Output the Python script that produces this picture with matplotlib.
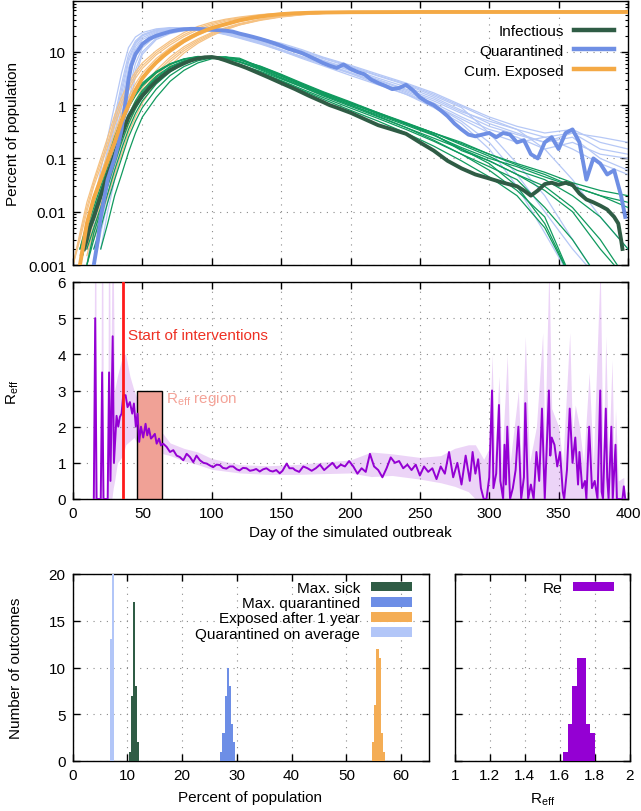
import numpy as np
import matplotlib
matplotlib.use("Agg")
import matplotlib.pyplot as plt
from matplotlib.patches import Rectangle
from matplotlib.ticker import LogLocator, NullFormatter

nan = np.nan

# ---------------- top panel data (percent of population) ----------------
infectious_mean = [(8, 0.002), (10, 0.003), (12, 0.005), (15, 0.008), (20, 0.02), (25, 0.05), (30, 0.12),
                   (35, 0.28), (40, 0.6), (45, 1.0), (50, 1.5), (55, 2.1), (60, 2.8), (65, 3.6), (70, 4.5),
                   (75, 5.3), (80, 6.1), (85, 6.9), (90, 7.5), (95, 7.9), (100, 8.0), (105, 7.6), (110, 6.9),
                   (115, 6.2), (120, 5.6), (125, 5.0), (130, 4.4), (140, 3.4), (150, 2.6), (160, 2.0),
                   (170, 1.5), (180, 1.15), (185, 1.0), (190, 0.9), (200, 0.72), (210, 0.55), (220, 0.42),
                   (230, 0.35), (240, 0.29), (250, 0.2), (260, 0.14), (270, 0.09), (280, 0.065), (290, 0.05),
                   (300, 0.042), (310, 0.035), (320, 0.03), (325, 0.025), (330, 0.02), (335, 0.025),
                   (340, 0.033), (345, 0.035), (350, 0.032), (355, 0.035), (360, 0.032), (365, 0.022),
                   (370, 0.017), (375, 0.015), (380, 0.013), (385, 0.011), (390, 0.008), (393, 0.006),
                   (395, 0.003), (396, 0.002)]

quarantined_mean = [(15, 0.001), (18, 0.003), (20, 0.008), (25, 0.04), (30, 0.1), (33, 0.2), (35, 0.35),
                    (37, 0.8), (40, 3.0), (42, 5.5), (45, 9), (50, 14), (55, 17.5), (60, 20), (65, 22),
                    (70, 24), (75, 25.5), (80, 26.5), (85, 27), (90, 27), (95, 26.5), (100, 26), (105, 25.5),
                    (110, 25), (115, 24), (120, 22), (125, 20.5), (130, 19), (135, 17.5), (140, 16),
                    (145, 14.5), (150, 13), (155, 11.5), (160, 10.5), (165, 9.5), (170, 8.3), (175, 7.2),
                    (180, 6.2), (185, 5.5), (190, 5.0), (195, 5.8), (200, 4.8), (205, 4.2), (210, 3.8),
                    (215, 3.0), (220, 2.6), (225, 2.3), (230, 2.0), (235, 2.1), (240, 2.4), (245, 1.9),
                    (250, 1.4), (255, 1.15), (260, 1.0), (265, 0.8), (270, 0.62), (275, 0.45), (280, 0.35),
                    (285, 0.28), (290, 0.26), (295, 0.28), (300, 0.3), (305, 0.25), (310, 0.3), (315, 0.28),
                    (320, 0.2), (325, 0.22), (330, 0.12), (335, 0.1), (340, 0.2), (345, 0.25), (350, 0.15),
                    (355, 0.3), (360, 0.35), (365, 0.2), (370, 0.04), (375, 0.1), (380, 0.08), (385, 0.05),
                    (390, 0.06), (395, 0.02), (398, 0.008)]

exposed_mean = [(5, 0.001), (7, 0.002), (10, 0.006), (15, 0.018), (20, 0.04), (25, 0.09), (30, 0.2),
                (35, 0.5), (40, 1.0), (45, 1.9), (50, 3.2), (55, 4.6), (60, 6.3), (65, 8.3), (70, 10.5),
                (75, 13), (80, 16), (85, 19), (90, 22), (95, 25), (100, 28), (110, 33), (120, 39),
                (130, 44), (140, 48), (150, 51), (160, 53), (175, 54.5), (200, 55.5), (250, 56),
                (300, 56), (350, 56), (400, 56)]

# individual runs (thin lines)
run_days = [5, 10, 15, 20, 25, 30, 35, 40, 45, 50, 60, 70, 80, 90, 100, 110, 120, 135, 150, 165, 180,
            200, 220, 240, 260, 280, 300, 320, 340, 360, 380, 400]
infectious_runs = [
    [0.002, 0.006, 0.015, 0.04, 0.1, 0.25, 0.55, 1.1, 1.8, 2.6, 4.3, 6.0, 7.4, 8.2, 8.0, 7.0, 5.8, 4.3, 3.1,
     2.2, 1.55, 1.0, 0.65, 0.42, 0.27, 0.16, 0.1, 0.07, 0.045, 0.03, 0.02, 0.012],
    [0.001, 0.003, 0.008, 0.02, 0.05, 0.13, 0.3, 0.65, 1.2, 1.9, 3.5, 5.3, 6.8, 7.8, 8.1, 7.5, 6.4, 4.8, 3.3,
     2.3, 1.6, 1.0, 0.62, 0.38, 0.22, 0.12, 0.07, 0.04, 0.012, 0.003, 0.0005, nan],
    [nan, 0.001, 0.004, 0.01, 0.03, 0.08, 0.2, 0.45, 0.85, 1.4, 2.8, 4.5, 6.2, 7.5, 8.2, 7.9, 7.0, 5.4, 3.8,
     2.6, 1.8, 1.15, 0.72, 0.45, 0.28, 0.15, 0.08, 0.03, 0.006, 0.0005, nan, nan],
    [nan, nan, 0.002, 0.005, 0.015, 0.04, 0.1, 0.25, 0.5, 0.9, 2.0, 3.6, 5.3, 6.8, 7.7, 7.9, 7.3, 5.0, 3.5,
     2.4, 1.65, 1.05, 0.7, 0.46, 0.3, 0.18, 0.11, 0.06, 0.04, 0.02, 0.008, 0.002],
    [nan, nan, nan, 0.002, 0.006, 0.02, 0.05, 0.13, 0.3, 0.6, 1.4, 2.8, 4.5, 6.2, 7.4, 8.0, 7.6, 5.2, 3.6,
     2.5, 1.7, 1.1, 0.7, 0.45, 0.3, 0.2, 0.12, 0.075, 0.05, 0.03, 0.02, 0.015],
    [0.001, 0.004, 0.01, 0.025, 0.07, 0.18, 0.42, 0.9, 1.5, 2.3, 4.0, 5.8, 7.2, 8.0, 7.8, 6.8, 5.6, 4.0, 2.8,
     1.9, 1.3, 0.8, 0.5, 0.3, 0.17, 0.09, 0.045, 0.02, 0.005, 0.0005, nan, nan],
    [nan, 0.002, 0.005, 0.012, 0.035, 0.1, 0.24, 0.55, 1.0, 1.6, 3.1, 4.8, 6.4, 7.6, 8.0, 7.6, 6.6, 5.0, 3.5,
     2.4, 1.7, 1.1, 0.68, 0.44, 0.28, 0.14, 0.09, 0.05, 0.03, 0.012, 0.003, 0.0005],
    [0.001, 0.003, 0.007, 0.018, 0.045, 0.12, 0.28, 0.6, 1.1, 1.75, 3.3, 5.1, 6.7, 7.8, 8.1, 7.6, 6.5, 4.6,
     3.2, 2.2, 1.5, 0.95, 0.6, 0.38, 0.24, 0.15, 0.09, 0.05, 0.025, 0.01, 0.002, 0.0005],
    [nan, 0.001, 0.003, 0.008, 0.022, 0.06, 0.15, 0.35, 0.7, 1.2, 2.5, 4.2, 6.0, 7.3, 8.1, 8.0, 7.2, 5.3, 3.7,
     2.5, 1.75, 1.1, 0.72, 0.47, 0.3, 0.19, 0.12, 0.08, 0.055, 0.035, 0.025, 0.02],
    [0.002, 0.005, 0.012, 0.03, 0.08, 0.2, 0.48, 1.0, 1.65, 2.45, 4.1, 5.9, 7.3, 8.1, 7.9, 6.9, 5.7, 4.1, 2.9,
     2.0, 1.4, 0.88, 0.56, 0.35, 0.21, 0.12, 0.06, 0.025, 0.008, 0.0005, nan, nan],
]
quarantined_runs = [
    [nan, 0.002, 0.01, 0.04, 0.15, 0.6, 2.5, 9, 16, 21, 26, 28, 28, 27, 25, 22, 19, 15, 11, 8.0, 6.0, 4.0,
     2.7, 1.8, 1.1, 0.6, 0.35, 0.25, 0.15, 0.2, 0.12, 0.1],
    [nan, 0.001, 0.004, 0.015, 0.05, 0.2, 0.9, 4, 11, 17, 23, 26, 27.5, 27, 25.5, 23, 20, 16, 12.5, 9.5, 7.0,
     4.8, 3.2, 2.2, 1.4, 0.8, 0.45, 0.3, 0.2, 0.3, 0.15, 0.12],
    [nan, nan, 0.002, 0.006, 0.02, 0.08, 0.35, 1.8, 6, 12, 20, 24, 26, 26.5, 25, 23, 20.5, 17, 13.5, 10, 7.5,
     5.2, 3.5, 2.4, 1.5, 0.9, 0.3, 0.08, 0.02, 0.003, 0.0005, nan],
    [nan, 0.003, 0.015, 0.06, 0.25, 1.0, 4, 12, 19, 23, 27, 28.5, 28, 26.5, 24.5, 21.5, 18.5, 14.5, 10.5, 7.5,
     5.5, 3.6, 2.4, 1.6, 1.0, 0.55, 0.3, 0.2, 0.25, 0.15, 0.08, 0.05],
    [nan, nan, nan, 0.002, 0.01, 0.04, 0.15, 0.8, 3.5, 9, 17, 22, 25, 26, 25.5, 24, 21.5, 18, 14.5, 11, 8.0,
     5.6, 3.8, 2.6, 1.7, 1.0, 0.6, 0.4, 0.3, 0.35, 0.2, 0.15],
    [nan, 0.001, 0.006, 0.025, 0.1, 0.4, 1.6, 6.5, 14, 20, 25, 27, 27, 26, 24, 21, 18, 14, 10.5, 7.8, 5.8,
     3.9, 2.5, 1.6, 0.9, 0.45, 0.15, 0.03, 0.004, 0.0005, nan, nan],
    [nan, nan, 0.003, 0.01, 0.035, 0.15, 0.6, 3, 9, 15, 22, 25.5, 27, 27, 25.5, 23.5, 20.5, 16.5, 12.5, 9.2,
     6.8, 4.6, 3.0, 2.0, 1.3, 0.75, 0.5, 0.35, 0.15, 0.04, 0.008, 0.002],
    [nan, 0.001, 0.005, 0.02, 0.07, 0.3, 1.2, 5, 12.5, 18.5, 24, 26.5, 27.5, 26.5, 25, 22, 19, 15.5, 12, 9,
     6.6, 4.4, 2.9, 1.9, 1.2, 0.7, 0.4, 0.28, 0.2, 0.25, 0.1, 0.06],
    [nan, nan, 0.001, 0.004, 0.015, 0.06, 0.25, 1.2, 4.5, 10, 18, 23, 26, 27, 26, 24, 21, 17.5, 14, 10.5, 7.8,
     5.4, 3.6, 2.5, 1.6, 0.95, 0.55, 0.35, 0.25, 0.3, 0.25, 0.2],
    [nan, 0.002, 0.008, 0.03, 0.12, 0.5, 2.0, 7.5, 15, 20.5, 25.5, 27.5, 27.5, 26.5, 24.5, 21.5, 18.5, 14.5,
     11, 8.2, 6.1, 4.1, 2.7, 1.7, 1.0, 0.5, 0.2, 0.05, 0.01, 0.002, 0.0005, nan],
]
exposed_days = [0, 5, 10, 15, 20, 25, 30, 35, 40, 45, 50, 60, 70, 80, 90, 100, 110, 120, 135, 150, 165, 180,
                200, 230, 260, 300, 400]
exposed_runs = [
    [0.001, 0.004, 0.015, 0.04, 0.1, 0.25, 0.65, 1.4, 2.6, 4.2, 6.2, 10.5, 16, 23, 30, 36, 41, 45, 50, 53,
     54.5, 55.3, 55.8, 56, 56, 56, 56],
    [0.001, 0.003, 0.01, 0.03, 0.07, 0.17, 0.42, 0.95, 1.9, 3.2, 4.9, 8.8, 13.5, 19.5, 26, 32, 37.5, 42, 47.5,
     51.5, 53.5, 54.7, 55.5, 55.9, 56, 56, 56],
    [nan, 0.002, 0.007, 0.02, 0.05, 0.12, 0.3, 0.7, 1.4, 2.5, 4.0, 7.5, 12, 17.5, 23.5, 29.5, 35, 40, 46, 50.5,
     53, 54.3, 55.3, 55.8, 56, 56, 56],
    [nan, 0.001, 0.004, 0.012, 0.03, 0.08, 0.2, 0.48, 1.0, 1.8, 3.0, 6.0, 10, 15, 20.5, 26.5, 32, 37, 43.5,
     48.5, 52, 53.8, 55, 55.7, 56, 56, 56],
    [nan, nan, 0.002, 0.007, 0.018, 0.05, 0.12, 0.3, 0.65, 1.2, 2.1, 4.5, 8, 12.5, 17.5, 23, 28.5, 34, 41, 47,
     50.5, 53, 54.6, 55.5, 55.9, 56, 56],
    [nan, nan, 0.001, 0.004, 0.011, 0.03, 0.075, 0.19, 0.42, 0.85, 1.5, 3.5, 6.5, 10.5, 15.5, 21, 26.5, 32, 39,
     45, 49.5, 52.5, 54.3, 55.4, 55.8, 56, 56],
    [nan, nan, nan, 0.003, 0.008, 0.02, 0.05, 0.12, 0.3, 0.6, 1.1, 2.8, 5.5, 9.5, 14.5, 20, 26, 32, 40, 46, 50,
     52.5, 54.5, 55.3, 55.7, 56, 56],
    [0.001, 0.0035, 0.012, 0.035, 0.085, 0.2, 0.52, 1.15, 2.2, 3.7, 5.5, 9.6, 14.8, 21, 28, 34, 39.5, 43.5, 49,
     52.3, 54, 55, 55.7, 56, 56, 56, 56],
    [nan, 0.0015, 0.005, 0.016, 0.04, 0.1, 0.25, 0.58, 1.2, 2.1, 3.5, 6.7, 11, 16.2, 22, 28, 33.5, 38.5, 44.8,
     49.5, 52.5, 54, 55.2, 55.8, 56, 56, 56],
    [nan, nan, 0.0015, 0.005, 0.014, 0.04, 0.1, 0.24, 0.52, 1.0, 1.8, 4.0, 7.2, 11.5, 16.5, 22, 27.5, 33, 40,
     46, 50, 52.8, 54.5, 55.5, 55.9, 56, 56],
]

# ---------------- middle panel: effective reproduction number ----------------
reff_points = [(15, 0), (16, 5.0), (17, 0), (20, 0), (21, 3.5), (22, 0), (25, 0), (26, 3.5), (27, 0.5),
               (28.6, 4.5), (29.5, 1.0), (31.4, 2.3), (32.6, 2.0), (33.8, 2.27), (35, 2.36), (36.2, 2.87),
               (37.9, 2.87), (39.3, 2.54), (41, 2.68), (42.7, 2.36), (43.9, 2.64), (45.3, 2.0), (46.5, 2.36),
               (47.7, 1.58), (49, 2.0), (50.6, 1.7), (52.3, 2.08), (53.5, 1.76), (54.7, 1.95), (56.2, 1.67),
               (57.4, 1.72), (59, 1.8), (60.3, 1.53), (62, 1.67), (63.4, 1.48), (65, 1.53), (67.5, 1.44),
               (69.9, 1.3), (72.3, 1.35), (74.7, 1.2), (77, 1.16), (79.5, 1.07), (81.9, 1.25), (84.3, 1.16),
               (86.7, 1.02), (89, 1.2), (91.5, 1.07), (94, 1.0), (96.3, 0.98), (99, 0.92), (101, 0.88),
               (103.5, 0.95), (105.8, 0.94), (108, 0.86), (110.6, 0.84), (113, 0.9), (115.4, 0.9), (118, 0.82),
               (120, 0.79), (122.5, 0.86), (125, 0.85), (127.5, 0.78), (130, 0.8), (132, 0.83), (134.6, 0.76),
               (137, 0.82), (139.4, 0.85), (142, 0.78), (144, 0.76), (146.5, 0.8), (149, 0.71), (151, 0.78),
               (154, 0.98), (156, 0.85), (158.6, 0.85), (160, 0.8), (163, 0.75), (166, 0.9), (169, 0.85),
               (172, 0.78), (175, 0.85), (178, 0.95), (181, 0.8), (184, 0.9), (187, 1.0), (190, 0.85),
               (193, 0.95), (196, 0.9), (199, 1.05), (202, 0.9), (205, 0.7), (208, 0.85), (211, 0.75),
               (214, 1.25), (217, 0.9), (220, 0.8), (223, 0.6), (226, 0.85), (229, 1.15), (232, 1.0),
               (235, 1.05), (238, 0.85), (241, 0.95), (244, 0.8), (247, 0.95), (250, 0.65), (253, 0.9),
               (256, 0.75), (259, 0.85), (262, 0.55), (265, 0.9), (268, 0.7), (271, 1.3), (274, 0.6),
               (277, 1.0), (280, 0.4), (283, 1.2), (286, 0.5), (288, 1.3), (290, 0.7), (292, 1.1), (294, 0.3),
               (296, 0.0), (298, 0.0), (300, 0.6), (302, 3.0), (303, 0.3), (305, 0.7), (307, 2.6), (308, 0.5),
               (310, 0.0), (311, 1.5), (312, 0.4), (313, 2.0), (315, 0.0), (317, 0.3), (319, 0.8), (321, 2.0),
               (323, 0.0), (325, 0.6), (326, 2.65), (328, 0.0), (330, 0.4), (332, 0.0), (334, 1.3), (336, 0.5),
               (338, 2.5), (340, 0.0), (341, 1.0), (343, 3.0), (344, 1.2), (345, 1.7), (347, 1.5), (349, 0.9),
               (351, 1.3), (353, 0.2), (354, 0.0), (356, 0.8), (358, 2.5), (360, 1.0), (362, 1.7), (364, 0.4),
               (365, 1.3), (367, 0.3), (369, 0.5), (370, 0.0), (372, 2.0), (374, 0.3), (376, 0.5), (378, 0.0),
               (380, 3.0), (381, 0.2), (382, 0.0), (384, 2.5), (385, 0.6), (386, 0.0), (388, 2.0), (389, 0.0),
               (391, 1.5), (392, 0.0), (396, 0.0), (397, 0.35), (398, 0.0)]

# (day, lower, upper) of the shaded uncertainty band
reff_band = [(15, 0, 0), (15.5, 0, 6.5), (16.5, 0, 6.5), (17, 0, 0), (20, 0, 0), (20.5, 0, 6.5),
             (21.5, 0, 6.5), (22, 0, 0), (25, 0, 0), (25.5, 0, 6.5), (26.5, 0, 6.5), (27, 0, 1.5),
             (28, 0, 6.5), (29, 0.3, 6.5), (30, 0.5, 3.0), (32, 1.0, 3.4), (36, 1.2, 4.0),
             (38, 1.5, 4.0), (41, 1.6, 3.4), (44, 1.7, 3.0), (47, 1.5, 2.7), (50, 1.3, 2.4), (55, 1.35, 2.2),
             (60, 1.35, 2.0), (65, 1.25, 1.8), (70, 1.2, 1.55), (80, 1.05, 1.4), (90, 0.95, 1.3),
             (100, 0.82, 1.12), (120, 0.72, 0.95), (140, 0.68, 0.92), (160, 0.68, 0.95), (180, 0.7, 1.02),
             (200, 0.72, 1.08), (215, 0.62, 1.3), (230, 0.65, 1.25), (250, 0.55, 1.15), (265, 0.45, 1.2),
             (275, 0.35, 1.4), (285, 0.2, 1.5), (290, 0, 1.5), (296, 0, 1.1), (300, 0, 1.4), (302, 0, 4.0),
             (304, 0, 1.2), (307, 0, 3.4), (309, 0, 1.0), (313, 0, 4.0), (315, 0, 1.0), (321, 0, 3.0),
             (323, 0, 1.0), (326, 0, 4.5), (329, 0, 1.0), (334, 0, 2.0), (338.5, 0, 4.6), (340, 0, 1.5),
             (343, 0, 6.5), (345, 0, 2.5), (347, 0, 2.3), (350, 0, 2.0), (353, 0, 1.0), (358, 0, 4.6),
             (360, 0, 1.8), (362, 0, 2.6), (365, 0, 2.0), (368, 0, 1.0), (372, 0, 3.5), (375, 0, 1.0),
             (380, 0, 6.5), (382, 0, 1.0), (384, 0, 4.5), (386, 0, 1.0), (388.5, 0, 3.85), (390, 0, 1.0),
             (391, 0, 2.5), (393, 0, 0.5), (397, 0, 0.6)]

intervention_day = 36
reff_region = (46, 64, 3.0)

# ---------------- bottom panels: histograms of outcomes ----------------
bin_width_pct = 0.37
max_sick_bins = [10.54, 10.91, 11.28, 11.65, 12.02]
max_sick_counts = [1, 7, 17, 8, 2]
max_quar_bins = [27.2, 27.57, 27.94, 28.31, 28.68, 29.05, 29.42]
max_quar_counts = [1, 3, 7, 10, 8, 4, 2]
exposed_year_bins = [54.95, 55.32, 55.69, 56.06, 56.43, 56.8]
exposed_year_counts = [2, 6, 12, 11, 3, 1]
quar_avg_bins = [6.95, 7.32]
quar_avg_counts = [13, 22]
bin_width_re = 0.026
re_bins = [1.633, 1.659, 1.685, 1.711, 1.737, 1.763, 1.789]
re_counts = [1, 4, 8, 11, 11, 4, 3]

# ---------------- styling ----------------
plt.rcParams['font.family'] = ['Liberation Sans', 'DejaVu Sans']
plt.rcParams['font.size'] = 11
plt.rcParams['mathtext.fontset'] = 'custom'
plt.rcParams['mathtext.rm'] = 'Liberation Sans'
plt.rcParams['mathtext.it'] = 'Liberation Sans:italic'
for a in ('x', 'y'):
    plt.rcParams[f'{a}tick.direction'] = 'in'
    plt.rcParams[f'{a}tick.major.size'] = 5
    plt.rcParams[f'{a}tick.minor.size'] = 2.5
    plt.rcParams[f'{a}tick.major.width'] = 1.0
    plt.rcParams[f'{a}tick.minor.width'] = 0.8
    plt.rcParams[f'{a}tick.major.pad'] = 5
plt.rcParams['xtick.top'] = True
plt.rcParams['ytick.right'] = True
plt.rcParams['axes.linewidth'] = 1.0

C_INF, C_INF_T = '#2f5c45', '#109a5e'
C_QUA, C_QUA_T = '#6f8fe4', '#b6c8f6'
C_EXP, C_EXP_T = '#f4a945', '#f6c283'
C_RE = '#9400d3'
GRID = dict(color='#8a8a8a', linestyle=(0, (1, 5)), linewidth=0.8)

W, H = 641, 812
fig = plt.figure(figsize=(W / 100, H / 100), dpi=100)
ax1 = fig.add_axes([73 / W, 1 - 266 / H, 555 / W, 264 / H])
ax2 = fig.add_axes([73 / W, 1 - 500 / H, 555 / W, 217 / H])
ax3 = fig.add_axes([72.5 / W, 1 - 762 / H, 356 / W, 187 / H])
ax4 = fig.add_axes([455 / W, 1 - 762 / H, 174.5 / W, 187 / H])


def unzip(points):
    return [p[0] for p in points], [p[1] for p in points]


# ---- top panel ----
for run in quarantined_runs:
    ax1.plot(run_days, run, color=C_QUA_T, lw=0.9, zorder=2)
for run in exposed_runs:
    ax1.plot(exposed_days, run, color=C_EXP_T, lw=0.9, zorder=2)
for run in infectious_runs:
    ax1.plot(run_days, run, color=C_INF_T, lw=0.9, zorder=3)
x, y = unzip(infectious_mean)
ax1.plot(x, y, color=C_INF, lw=2.8, zorder=4, label='Infectious')
x, y = unzip(quarantined_mean)
ax1.plot(x, y, color=C_QUA, lw=2.8, zorder=5, label='Quarantined')
x, y = unzip(exposed_mean)
ax1.plot(x, y, color=C_EXP, lw=2.8, zorder=6, label='Cum. Exposed')

ax1.set_yscale('log')
ax1.set_xlim(0, 400)
ax1.set_ylim(0.001, 90)
ax1.set_xticks(range(0, 401, 50))
ax1.set_xticklabels([])
ax1.set_yticks([0.001, 0.01, 0.1, 1, 10])
ax1.set_yticklabels(['0.001', '0.01', '0.1', '1', '10'])
ax1.yaxis.set_minor_locator(LogLocator(base=10, subs=np.arange(2, 10)))
ax1.yaxis.set_minor_formatter(NullFormatter())
ax1.grid(True, which='major', **GRID)
ax1.set_axisbelow(True)
leg1 = ax1.legend(loc='upper right', bbox_to_anchor=(614 / W, 1 - 25 / H), bbox_transform=fig.transFigure,
                  frameon=False, markerfirst=False, handlelength=2.6, handletextpad=0.7,
                  labelspacing=0.38, borderpad=0, borderaxespad=0, fontsize=11)
for lh in leg1.get_lines():
    lh.set_linewidth(3.2)

# ---- middle panel ----
bd = [b[0] for b in reff_band]
blo = [b[1] for b in reff_band]
bhi = [b[2] for b in reff_band]
ax2.fill_between(bd, blo, bhi, color=C_RE, alpha=0.17, lw=0, zorder=2)
x0, x1, top = reff_region
ax2.add_patch(Rectangle((x0, 0), x1 - x0, top, facecolor='#f0a196', edgecolor='black', lw=1.0, zorder=3))
x, y = unzip(reff_points)
ax2.plot(x, y, color=C_RE, lw=1.4, zorder=4)
ax2.axvline(intervention_day, color='#ff1a1a', lw=2.0, zorder=5)
ax2.text(39.4, 4.53, 'Start of interventions', color='#ee3124', fontsize=11, va='center', ha='left', zorder=6)
ax2.text(67, 2.78, r'R$_{\mathrm{eff}}$ region', color='#f4a398', fontsize=11, va='center', ha='left', zorder=6)
ax2.set_xlim(0, 400)
ax2.set_ylim(0, 6)
ax2.set_xticks(range(0, 401, 50))
ax2.set_yticks(range(0, 7))
ax2.grid(True, **GRID)
ax2.set_axisbelow(True)
ax2.set_xlabel('Day of the simulated outbreak', labelpad=4)

# ---- bottom left ----
ax3.bar(max_sick_bins, max_sick_counts, width=bin_width_pct, color=C_INF, lw=0, label='Max. sick', zorder=3)
ax3.bar(max_quar_bins, max_quar_counts, width=bin_width_pct, color='#6d8ee6', lw=0, label='Max. quarantined',
        zorder=3)
ax3.bar(exposed_year_bins, exposed_year_counts, width=bin_width_pct, color='#f4ad55', lw=0,
        label='Exposed after 1 year', zorder=3)
ax3.bar(quar_avg_bins, quar_avg_counts, width=bin_width_pct, color='#b2c6f8', lw=0,
        label='Quarantined on average', zorder=3)
ax3.set_xlim(0, 65)
ax3.set_ylim(0, 20)
ax3.set_xticks(range(0, 61, 10))
ax3.set_yticks(range(0, 21, 5))
ax3.grid(True, **GRID)
ax3.set_axisbelow(True)
ax3.set_xlabel('Percent of population', labelpad=6)
ax3.legend(loc='upper right', bbox_to_anchor=(412 / W, 1 - 582 / H), bbox_transform=fig.transFigure,
           frameon=False, markerfirst=False, handlelength=2.7, handleheight=0.6, handletextpad=0.7,
           labelspacing=0.08, borderpad=0, borderaxespad=0, fontsize=11)

# ---- bottom right ----
ax4.bar(re_bins, re_counts, width=bin_width_re, color=C_RE, lw=0, label='Re', zorder=3)
ax4.set_xlim(1, 2)
ax4.set_ylim(0, 20)
ax4.set_xticks([1, 1.2, 1.4, 1.6, 1.8, 2])
ax4.set_xticklabels(['1', '1.2', '1.4', '1.6', '1.8', '2'])
ax4.set_yticks(range(0, 21, 5))
ax4.set_yticklabels([])
ax4.grid(True, **GRID)
ax4.set_axisbelow(True)
ax4.set_xlabel(r'R$_{\mathrm{eff}}$', labelpad=6)
ax4.legend(loc='upper right', bbox_to_anchor=(614 / W, 1 - 582 / H), bbox_transform=fig.transFigure,
           frameon=False, markerfirst=False, handlelength=2.7, handleheight=0.6, handletextpad=0.7,
           borderpad=0, borderaxespad=0, fontsize=11)

# ---- y labels ----
fig.text(13 / W, 1 - 134 / H, 'Percent of population', rotation=90, ha='center', va='center', fontsize=11)
fig.text(13 / W, 1 - 392 / H, r'R$_{\mathrm{eff}}$', rotation=90, ha='center', va='center', fontsize=11)
fig.text(16 / W, 1 - 668 / H, 'Number of outcomes', rotation=90, ha='center', va='center', fontsize=11)

fig.savefig('out.png', dpi=100)
